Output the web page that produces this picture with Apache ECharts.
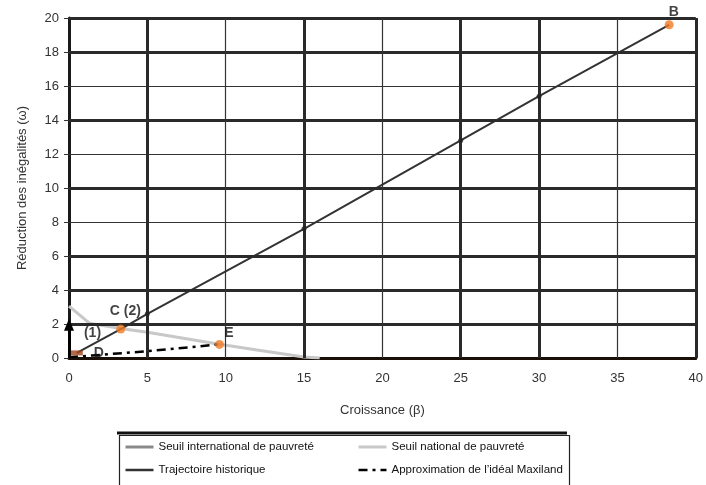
<!DOCTYPE html>
<html>
<head>
<meta charset="utf-8">
<script src="https://cdn.jsdelivr.net/npm/echarts@6/dist/echarts.min.js"></script>
<style>html,body{margin:0;padding:0;background:#fff}#c{width:706px;height:485px}</style>
</head>
<body>
<div id="c"></div>
<script>
// ---- data ----
const xTicks = [0, 5, 10, 15, 20, 25, 30, 35, 40];
const yTicks = [0, 2, 4, 6, 8, 10, 12, 14, 16, 18, 20];
const seriesNames = ['Seuil international de pauvreté', 'Seuil national de pauvreté', 'Trajectoire historique', 'Approximation de l\u2019idéal Maxiland'];
const seuilInternational = [];
const seuilNational = [[0, 3.05], [1.3, 2.05], [3.4, 1.72], [5, 1.52], [9.5, 0.82], [12, 0.47], [15, 0.06], [16, 0]];
const trajectoire = [[0.5, 0.3], [3.3, 1.7], [5, 2.6], [15, 7.6], [25, 12.8], [30, 15.4], [38.3, 19.6]];
const maxiland = [[0, 0.05], [1.5, 0.15], [5, 0.4], [9.6, 0.8]];
const orangePoints = [[3.3, 1.7], [9.6, 0.8], [38.3, 19.6]];
const brownPoints = [[0.5, 0.3]];
const blackPoints = [[5, 2.6], [15, 7.6], [25, 12.8], [30, 15.4]];
const annotations = [
  { name: 'B', value: [38.6, 20.35] },
  { name: 'C (2)', value: [3.6, 2.75] },
  { name: '(1)', value: [1.5, 1.45] },
  { name: 'D', value: [1.9, 0.3] },
  { name: 'E', value: [10.2, 1.45] }
];
const arrow1 = [[0, 0], [0, 1.95]];
const hGridThick = [2, 4, 6, 10, 14, 18, 20];
const hGridThin = [8, 12, 16];
const vGridThick = [5, 15, 25, 30, 40];
const vGridThin = [10, 20, 35];

// ---- chart ----
const chart = echarts.init(document.getElementById('c'));
const font = 'Liberation Sans, Arial, sans-serif';
const gridLines = [];
hGridThick.forEach(v => gridLines.push({ yAxis: v, lineStyle: { width: 3, color: '#2a2a2a', type: 'solid' } }));
hGridThin.forEach(v => gridLines.push({ yAxis: v, lineStyle: { width: 1.2, color: '#333', type: 'solid' } }));
vGridThick.forEach(v => gridLines.push({ xAxis: v, lineStyle: { width: 3, color: '#2a2a2a', type: 'solid' } }));
vGridThin.forEach(v => gridLines.push({ xAxis: v, lineStyle: { width: 1.2, color: '#333', type: 'solid' } }));

const legendCommon = {
  orient: 'vertical', top: 441, padding: 0,
  itemWidth: 28, itemHeight: 12, itemGap: 11,
  itemStyle: { opacity: 0 }
};

chart.setOption({
  backgroundColor: '#fff',
  animation: false,
  textStyle: { fontFamily: font },
  grid: { left: 69, right: 6, top: 18, bottom: 127 },
  xAxis: {
    type: 'value', min: 0, max: 40, interval: 5,
    name: 'Croissance (β)', nameLocation: 'middle', nameGap: 46,
    nameTextStyle: { fontSize: 13, color: '#333', fontFamily: font },
    axisLine: { show: true, onZero: false, lineStyle: { color: '#1a1008', width: 3 } },
    axisTick: { show: false },
    axisLabel: { fontSize: 13, color: '#333', margin: 14, formatter: v => xTicks.includes(v) ? String(v) : '' },
    splitLine: { show: false }
  },
  yAxis: {
    type: 'value', min: 0, max: 20, interval: 2,
    name: 'Réduction des inégalités (ω)', nameLocation: 'middle', nameGap: 40,
    nameTextStyle: { fontSize: 13, color: '#333', fontFamily: font },
    axisLine: { show: true, onZero: false, lineStyle: { color: '#1a1a1a', width: 3 } },
    axisTick: { show: true, length: 5, lineStyle: { color: '#333', width: 1 } },
    axisLabel: { fontSize: 13, color: '#333', margin: 10, formatter: v => yTicks.includes(v) ? String(v) : '' },
    splitLine: { show: false }
  },
  legend: [
    Object.assign({}, legendCommon, {
      data: [
        { name: seriesNames[0], lineStyle: { width: 3 } },
        { name: seriesNames[2], lineStyle: { width: 2.5 } }
      ],
      left: 124,
      textStyle: { fontSize: 11.5, color: '#111', fontFamily: font }
    }),
    Object.assign({}, legendCommon, {
      data: [
        { name: seriesNames[1], lineStyle: { width: 3 } },
        { name: seriesNames[3], lineStyle: { width: 2.5 } }
      ],
      left: 357,
      textStyle: { fontSize: 11.5, color: '#111', fontFamily: font, width: 178, overflow: 'truncate', ellipsis: '' }
    })
  ],
  graphic: [
    { type: 'rect', left: 117, top: 433, shape: { width: 450, height: 60 }, style: { fill: 'none', stroke: '#222', lineWidth: 1.2 }, z: 10 },
    { type: 'line', shape: { x1: 117, y1: 433, x2: 567, y2: 433 }, style: { stroke: '#111', lineWidth: 3 }, z: 10 }
  ],
  series: [
    {
      name: '__grid', type: 'line', data: [], silent: true, z: 1,
      markLine: { silent: true, symbol: 'none', label: { show: false }, animation: false, data: gridLines }
    },
    { name: seriesNames[0], type: 'line', data: seuilInternational, symbol: 'none', color: '#8a8a8a', lineStyle: { width: 3, color: '#8a8a8a' }, z: 3 },
    { name: seriesNames[1], type: 'line', data: seuilNational, symbol: 'none', color: '#c8c8c8', lineStyle: { width: 3, color: '#c8c8c8' }, z: 3 },
    { name: seriesNames[2], type: 'line', data: trajectoire, symbol: 'none', color: '#333', lineStyle: { width: 2, color: '#333' }, z: 4 },
    { name: seriesNames[3], type: 'line', data: maxiland, symbol: 'none', color: '#000', lineStyle: { width: 2.5, color: '#000', type: [9, 5, 3, 5] }, z: 4 },
    { name: '__arrow', type: 'line', data: [], silent: true, z: 5,
      markLine: { silent: true, symbol: ['none', 'triangle'], symbolSize: [10, 12], label: { show: false },
        lineStyle: { color: '#000', width: 3, type: 'solid' },
        data: [[{ coord: arrow1[0] }, { coord: arrow1[1] }]] } },
    { name: '__black', type: 'scatter', data: blackPoints, symbol: 'circle', symbolSize: 5, itemStyle: { color: '#222' }, z: 6 },
    { name: '__orange', type: 'scatter', data: orangePoints, symbol: 'circle', symbolSize: 9, itemStyle: { color: '#f07a22' }, z: 6, clip: false },
    { name: '__brown', type: 'scatter', data: brownPoints, symbol: 'rect', symbolSize: [12, 5], itemStyle: { color: '#a0421a' }, z: 6 },
    { name: '__labels', type: 'scatter', data: annotations, symbolSize: 0, silent: true, z: 7, clip: false,
      label: { show: true, position: 'inside', formatter: p => p.name, fontSize: 14, fontWeight: 'bold', color: '#111', fontFamily: font } }
  ]
});
</script>
</body>
</html>
